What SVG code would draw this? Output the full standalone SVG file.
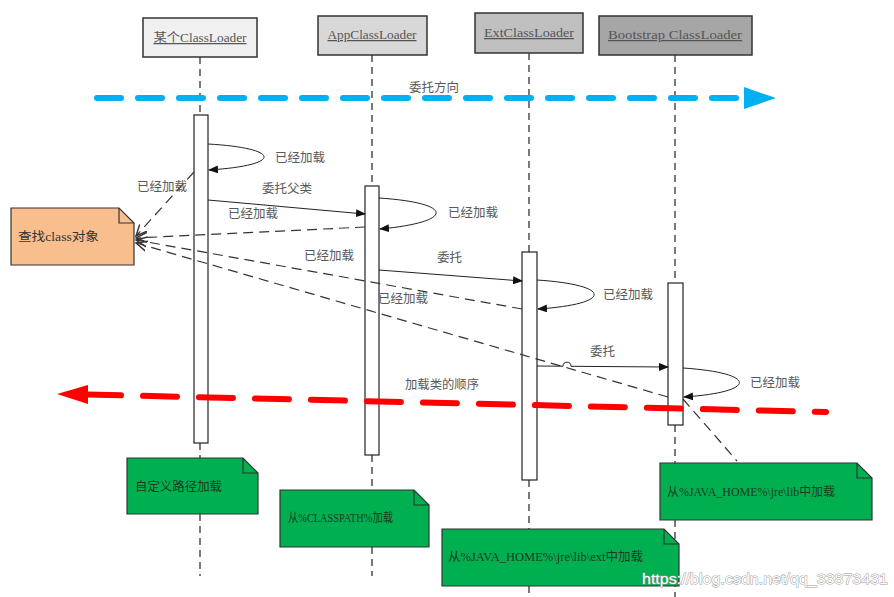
<svg xmlns="http://www.w3.org/2000/svg" width="894" height="597" viewBox="0 0 894 597">
<style>
text{font-family:"Liberation Serif","Noto Sans CJK SC",serif;font-size:12.5px;fill:#595959}
.hdr{stroke:#333;stroke-width:1.5}
.hdrt{fill:#555;text-decoration:underline;text-anchor:middle}
.life{stroke:#222;stroke-width:1.2;stroke-dasharray:7 5;fill:none}
.act{fill:#fff;stroke:#222;stroke-width:1.2}
.msg{stroke:#222;stroke-width:1;fill:none;marker-end:url(#fa)}
.ret{stroke:#333;stroke-width:1.2;stroke-dasharray:10 6;fill:none;marker-end:url(#oa)}
.note{stroke:#333;stroke-width:1.2}
.gn{fill:#00b050}
.nt{fill:#1e3a22}
</style>
<defs>
<marker id="fa" markerWidth="10" markerHeight="8" refX="9" refY="4" orient="auto" markerUnits="userSpaceOnUse">
<path d="M0,0 L10,4 L0,8 z" fill="#111"/>
</marker>
<marker id="oa" markerWidth="12" markerHeight="12" refX="11" refY="6" orient="auto" markerUnits="userSpaceOnUse">
<path d="M0,1 L11,6 L0,11" fill="none" stroke="#333" stroke-width="1.4"/>
</marker>
</defs>
<rect width="894" height="597" fill="#fff"/>

<g id="lifelines">
<path class="life" d="M200,57 V115 M200,443 V458 M200,514 V576"/>
<path class="life" d="M372,55 V186 M372,455 V490 M372,547 V576"/>
<path class="life" d="M529,53 V252 M529,480 V529 M529,586 V597"/>
<path class="life" d="M675,55 V283 M675,425 V463 M675,520 V597"/>
</g>

<g id="arrows-direction">
<line x1="97" y1="98" x2="745" y2="98" stroke="#00b0f0" stroke-width="6" stroke-linecap="round" stroke-dasharray="24 17"/>
<polygon points="744,87 776,98 744,109" fill="#00b0f0"/>
<text x="434" y="92" text-anchor="middle">委托方向</text>
</g>

<g id="node-loader">
<rect class="hdr" x="143" y="18" width="114" height="39" fill="#f0f0f0"/>
<text class="hdrt" x="200" y="42" textLength="93" lengthAdjust="spacingAndGlyphs">某个ClassLoader</text>
<rect class="act" x="194" y="115" width="14" height="328"/>
</g>
<g id="node-app">
<rect class="hdr" x="318" y="16" width="109" height="39" fill="#d8d8d8"/>
<text class="hdrt" x="372" y="39" textLength="89" lengthAdjust="spacingAndGlyphs">AppClassLoader</text>
<rect class="act" x="365" y="186" width="14" height="269"/>
</g>
<g id="node-ext">
<rect class="hdr" x="475" y="13" width="108" height="40" fill="#c0c0c0"/>
<text class="hdrt" x="529" y="37" textLength="90" lengthAdjust="spacingAndGlyphs">ExtClassLoader</text>
<rect class="act" x="522" y="252" width="15" height="228"/>
</g>
<g id="node-boot">
<rect class="hdr" x="599" y="16" width="153" height="39" fill="#a6a6a6"/>
<text class="hdrt" x="675" y="39" textLength="134" lengthAdjust="spacingAndGlyphs">Bootstrap ClassLoader</text>
<rect class="act" x="668" y="283" width="15" height="142"/>
</g>

<g id="order">
<line x1="87" y1="394.5" x2="826" y2="412" stroke="#ff0000" stroke-width="6" stroke-linecap="round" stroke-dasharray="34 22"/>
<polygon points="57,394 88,385 88,404" fill="#ff0000"/>
<text x="405" y="389" textLength="74" lengthAdjust="spacingAndGlyphs">加载类的顺序</text>
</g>

<g id="connectors">
<path class="msg" d="M208,144 C280,148 285,165 209,170"/>
<path class="msg" d="M379,198 C455,203 455,222 380,229"/>
<path class="msg" d="M537,280 C613,285 613,304 538,309"/>
<path class="msg" d="M683,368 C758,373 758,392 684,397"/>
<path class="msg" d="M208,200 L365,214"/>
<path class="msg" d="M379,270 L522,281"/>
<path class="msg" d="M537,366 L563,366.2 A4,4 0 0 1 571,366.3 L668,367"/>
<path class="ret" d="M194,172 L136,236"/>
<path class="ret" d="M365,227 L136,238"/>
<path class="ret" d="M522,309 L136,240"/>
<path class="ret" d="M668,397 L136,243"/>
<path d="M683,399 L737,461" stroke="#333" stroke-width="1.2" stroke-dasharray="10 6" fill="none"/>
</g>

<g id="labels">
<text x="275" y="162">已经加载</text>
<text x="448" y="217">已经加载</text>
<text x="603" y="299">已经加载</text>
<text x="750" y="387">已经加载</text>
<text x="137" y="191">已经加载</text>
<text x="228" y="218">已经加载</text>
<text x="304" y="260">已经加载</text>
<text x="378" y="303">已经加载</text>
<text x="262" y="193">委托父类</text>
<text x="437" y="262">委托</text>
<text x="590" y="356">委托</text>
</g>

<g id="note-find">
<polygon class="note" points="11,208 119,208 134,223 134,265 11,265" fill="#f8be8d"/>
<path class="note" d="M119,208 V223 H134" fill="none"/>
<text x="18" y="241" style="fill:#333" textLength="81" lengthAdjust="spacingAndGlyphs">查找class对象</text>
</g>
<g id="note-custom">
<polygon class="note gn" points="127,458 243,458 258,473 258,514 127,514"/>
<path class="note" d="M243,458 V473 H258" fill="none"/>
<text class="nt" x="135" y="491" textLength="87" lengthAdjust="spacingAndGlyphs">自定义路径加载</text>
</g>
<g id="note-classpath">
<polygon class="note gn" points="280,490 414,490 429,505 429,547 280,547"/>
<path class="note" d="M414,490 V505 H429" fill="none"/>
<text class="nt" x="288" y="522" textLength="105" lengthAdjust="spacingAndGlyphs">从%CLASSPATH%加载</text>
</g>
<g id="note-ext">
<polygon class="note gn" points="442,529 664,529 679,544 679,586 442,586"/>
<path class="note" d="M664,529 V544 H679" fill="none"/>
<text class="nt" x="448" y="561" textLength="195" lengthAdjust="spacingAndGlyphs">从%JAVA_HOME%\jre\lib\ext中加载</text>
</g>
<g id="note-boot">
<polygon class="note gn" points="660,463 857,463 872,478 872,520 660,520"/>
<path class="note" d="M857,463 V478 H872" fill="none"/>
<text class="nt" x="667" y="496" textLength="168" lengthAdjust="spacingAndGlyphs">从%JAVA_HOME%\jre\lib中加载</text>
</g>

<text x="642" y="584" style="font-family:'Liberation Sans',sans-serif;font-size:15px;fill:#fff;stroke:#999;stroke-width:0.9;paint-order:stroke" textLength="246" lengthAdjust="spacingAndGlyphs">https://blog.csdn.net/qq_33873431</text>
</svg>
